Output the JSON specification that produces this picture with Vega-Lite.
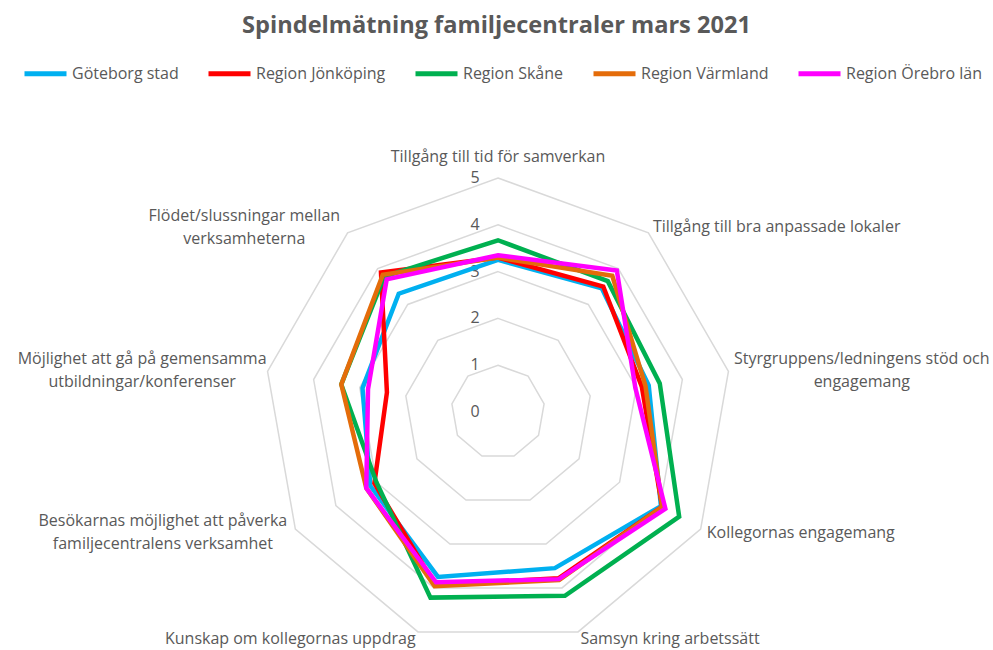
{
  "$schema": "https://vega.github.io/schema/vega-lite/v6.json",
  "autosize": {"type": "none"},
  "padding": {"left": 0, "right": 0, "top": 100, "bottom": 0},
  "width": 993,
  "height": 550,
  "background": "white",
  "title": {
    "text": "Spindelmätning familjecentraler mars 2021",
    "font": "Open Sans",
    "fontSize": 23.6,
    "fontWeight": "bold",
    "color": "#595959",
    "anchor": "middle",
    "offset": 12
  },
  "config": {
    "view": {"stroke": null},
    "legend": {
      "orient": "none",
      "legendX": 22,
      "legendY": -50,
      "direction": "horizontal",
      "columns": 5,
      "columnPadding": 19,
      "symbolType": "stroke",
      "symbolSize": 1764,
      "symbolStrokeWidth": 5,
      "labelOffset": 3,
      "labelFont": "Open Sans",
      "labelFontSize": 16,
      "labelColor": "#595959",
      "labelLimit": 300,
      "title": null
    }
  },
  "datasets": {
    "series": [
      {"s": "Göteborg stad", "i": 0, "v": 3.25},
      {"s": "Göteborg stad", "i": 1, "v": 3.45},
      {"s": "Göteborg stad", "i": 2, "v": 3.27},
      {"s": "Göteborg stad", "i": 3, "v": 4.02},
      {"s": "Göteborg stad", "i": 4, "v": 3.55},
      {"s": "Göteborg stad", "i": 5, "v": 3.75},
      {"s": "Göteborg stad", "i": 6, "v": 3.15},
      {"s": "Göteborg stad", "i": 7, "v": 2.94},
      {"s": "Göteborg stad", "i": 8, "v": 3.3},
      {"s": "Region Jönköping", "i": 0, "v": 3.3},
      {"s": "Region Jönköping", "i": 1, "v": 3.5},
      {"s": "Region Jönköping", "i": 2, "v": 3.12},
      {"s": "Region Jönköping", "i": 3, "v": 4.05},
      {"s": "Region Jönköping", "i": 4, "v": 3.78},
      {"s": "Region Jönköping", "i": 5, "v": 3.93},
      {"s": "Region Jönköping", "i": 6, "v": 3.05},
      {"s": "Region Jönköping", "i": 7, "v": 2.41},
      {"s": "Region Jönköping", "i": 8, "v": 3.89},
      {"s": "Region Skåne", "i": 0, "v": 3.67},
      {"s": "Region Skåne", "i": 1, "v": 3.65},
      {"s": "Region Skåne", "i": 2, "v": 3.51},
      {"s": "Region Skåne", "i": 3, "v": 4.47},
      {"s": "Region Skåne", "i": 4, "v": 4.18},
      {"s": "Region Skåne", "i": 5, "v": 4.22},
      {"s": "Region Skåne", "i": 6, "v": 3.0},
      {"s": "Region Skåne", "i": 7, "v": 3.4},
      {"s": "Region Skåne", "i": 8, "v": 3.78},
      {"s": "Region Värmland", "i": 0, "v": 3.3},
      {"s": "Region Värmland", "i": 1, "v": 3.8},
      {"s": "Region Värmland", "i": 2, "v": 3.2},
      {"s": "Region Värmland", "i": 3, "v": 4.05},
      {"s": "Region Värmland", "i": 4, "v": 3.82},
      {"s": "Region Värmland", "i": 5, "v": 3.96},
      {"s": "Region Värmland", "i": 6, "v": 3.25},
      {"s": "Region Värmland", "i": 7, "v": 3.4},
      {"s": "Region Värmland", "i": 8, "v": 3.83},
      {"s": "Region Örebro län", "i": 0, "v": 3.35},
      {"s": "Region Örebro län", "i": 1, "v": 3.95},
      {"s": "Region Örebro län", "i": 2, "v": 2.98},
      {"s": "Region Örebro län", "i": 3, "v": 4.13},
      {"s": "Region Örebro län", "i": 4, "v": 3.8},
      {"s": "Region Örebro län", "i": 5, "v": 3.87},
      {"s": "Region Örebro län", "i": 6, "v": 3.25},
      {"s": "Region Örebro län", "i": 7, "v": 2.82},
      {"s": "Region Örebro län", "i": 8, "v": 3.7}
    ],
    "rings": [
      {"level": 1, "i": 0}, {"level": 1, "i": 1}, {"level": 1, "i": 2}, {"level": 1, "i": 3}, {"level": 1, "i": 4}, {"level": 1, "i": 5}, {"level": 1, "i": 6}, {"level": 1, "i": 7}, {"level": 1, "i": 8},
      {"level": 2, "i": 0}, {"level": 2, "i": 1}, {"level": 2, "i": 2}, {"level": 2, "i": 3}, {"level": 2, "i": 4}, {"level": 2, "i": 5}, {"level": 2, "i": 6}, {"level": 2, "i": 7}, {"level": 2, "i": 8},
      {"level": 3, "i": 0}, {"level": 3, "i": 1}, {"level": 3, "i": 2}, {"level": 3, "i": 3}, {"level": 3, "i": 4}, {"level": 3, "i": 5}, {"level": 3, "i": 6}, {"level": 3, "i": 7}, {"level": 3, "i": 8},
      {"level": 4, "i": 0}, {"level": 4, "i": 1}, {"level": 4, "i": 2}, {"level": 4, "i": 3}, {"level": 4, "i": 4}, {"level": 4, "i": 5}, {"level": 4, "i": 6}, {"level": 4, "i": 7}, {"level": 4, "i": 8},
      {"level": 5, "i": 0}, {"level": 5, "i": 1}, {"level": 5, "i": 2}, {"level": 5, "i": 3}, {"level": 5, "i": 4}, {"level": 5, "i": 5}, {"level": 5, "i": 6}, {"level": 5, "i": 7}, {"level": 5, "i": 8}
    ],
    "ticks": [{"t": 0}, {"t": 1}, {"t": 2}, {"t": 3}, {"t": 4}, {"t": 5}],
    "labels": [
      {"i": 0, "label": "Tillgång till tid för samverkan"},
      {"i": 1, "label": "Tillgång till bra anpassade lokaler"},
      {"i": 2, "label": "Styrgruppens/ledningens stöd och\nengagemang"},
      {"i": 3, "label": "Kollegornas engagemang"},
      {"i": 4, "label": "Samsyn kring arbetssätt"},
      {"i": 5, "label": "Kunskap om kollegornas uppdrag"},
      {"i": 6, "label": "Besökarnas möjlighet att påverka\nfamiljecentralens verksamhet"},
      {"i": 7, "label": "Möjlighet att gå på gemensamma\nutbildningar/konferenser"},
      {"i": 8, "label": "Flödet/slussningar mellan\nverksamheterna"}
    ]
  },
  "layer": [
    {
      "data": {"name": "rings"},
      "transform": [
        {"calculate": "datum.i * 2 * PI / 9", "as": "a"},
        {"calculate": "datum.level * sin(datum.a)", "as": "x"},
        {"calculate": "datum.level * cos(datum.a)", "as": "y"}
      ],
      "mark": {"type": "line", "interpolate": "linear-closed", "stroke": "#d9d9d9", "strokeWidth": 1.5},
      "encoding": {
        "x": {"field": "x", "type": "quantitative", "scale": {"domain": [-10.641, 10.577], "nice": false, "zero": false}, "axis": null},
        "y": {"field": "y", "type": "quantitative", "scale": {"domain": [-5.085, 6.667], "nice": false, "zero": false}, "axis": null},
        "detail": {"field": "level", "type": "nominal"},
        "order": {"field": "i", "type": "quantitative"}
      }
    },
    {
      "data": {"name": "ticks"},
      "mark": {"type": "text", "dx": -23, "font": "Open Sans", "fontSize": 16, "fill": "#595959", "align": "center", "baseline": "middle"},
      "encoding": {
        "x": {"datum": 0, "type": "quantitative", "scale": {"domain": [-10.641, 10.577], "nice": false, "zero": false}, "axis": null},
        "y": {"field": "t", "type": "quantitative", "scale": {"domain": [-5.085, 6.667], "nice": false, "zero": false}, "axis": null},
        "text": {"field": "t", "type": "quantitative"}
      }
    },
    {
      "data": {"name": "labels"},
      "transform": [
        {"calculate": "datum.i * 2 * PI / 9", "as": "a"},
        {"calculate": "length(split(datum.label, '\\n'))", "as": "n"},
        {"filter": "datum.n > 1 || abs(sin(datum.a)) < 0.01"},
        {"calculate": "5.15 * sin(datum.a) + (abs(sin(datum.a)) < 0.01 ? 0 : (sin(datum.a) > 0 ? 1 : -1)) * length(split(datum.label, '\\n')[0]) * 7.9 / 2 / 46.8", "as": "lx"},
        {"calculate": "5.15 * cos(datum.a) + (abs(sin(datum.a)) < 0.01 ? 0.3 : 0) + (datum.n - 1) * 11.5 / 46.8", "as": "ly"}
      ],
      "mark": {"type": "text", "font": "Open Sans", "fontSize": 16, "fill": "#595959", "align": "center", "baseline": "middle", "lineBreak": "\n", "lineHeight": 23},
      "encoding": {
        "x": {"field": "lx", "type": "quantitative", "scale": {"domain": [-10.641, 10.577], "nice": false, "zero": false}, "axis": null},
        "y": {"field": "ly", "type": "quantitative", "scale": {"domain": [-5.085, 6.667], "nice": false, "zero": false}, "axis": null},
        "text": {"field": "label", "type": "nominal"}
      }
    },
    {
      "data": {"name": "labels"},
      "transform": [
        {"calculate": "datum.i * 2 * PI / 9", "as": "a"},
        {"calculate": "length(split(datum.label, '\\n'))", "as": "n"},
        {"filter": "datum.n == 1 && sin(datum.a) > 0.01"},
        {"calculate": "5.15 * sin(datum.a)", "as": "lx"},
        {"calculate": "5.15 * cos(datum.a)", "as": "ly"}
      ],
      "mark": {"type": "text", "font": "Open Sans", "fontSize": 16, "fill": "#595959", "align": "left", "baseline": "middle"},
      "encoding": {
        "x": {"field": "lx", "type": "quantitative", "scale": {"domain": [-10.641, 10.577], "nice": false, "zero": false}, "axis": null},
        "y": {"field": "ly", "type": "quantitative", "scale": {"domain": [-5.085, 6.667], "nice": false, "zero": false}, "axis": null},
        "text": {"field": "label", "type": "nominal"}
      }
    },
    {
      "data": {"name": "labels"},
      "transform": [
        {"calculate": "datum.i * 2 * PI / 9", "as": "a"},
        {"calculate": "length(split(datum.label, '\\n'))", "as": "n"},
        {"filter": "datum.n == 1 && sin(datum.a) < -0.01"},
        {"calculate": "5.15 * sin(datum.a)", "as": "lx"},
        {"calculate": "5.15 * cos(datum.a)", "as": "ly"}
      ],
      "mark": {"type": "text", "font": "Open Sans", "fontSize": 16, "fill": "#595959", "align": "right", "baseline": "middle"},
      "encoding": {
        "x": {"field": "lx", "type": "quantitative", "scale": {"domain": [-10.641, 10.577], "nice": false, "zero": false}, "axis": null},
        "y": {"field": "ly", "type": "quantitative", "scale": {"domain": [-5.085, 6.667], "nice": false, "zero": false}, "axis": null},
        "text": {"field": "label", "type": "nominal"}
      }
    },
    {
      "data": {"name": "series"},
      "transform": [
        {"calculate": "datum.i * 2 * PI / 9", "as": "a"},
        {"calculate": "datum.v * sin(datum.a)", "as": "x"},
        {"calculate": "datum.v * cos(datum.a)", "as": "y"}
      ],
      "mark": {"type": "line", "interpolate": "linear-closed", "strokeWidth": 4.5, "strokeJoin": "miter"},
      "encoding": {
        "x": {"field": "x", "type": "quantitative", "scale": {"domain": [-10.641, 10.577], "nice": false, "zero": false}, "axis": null},
        "y": {"field": "y", "type": "quantitative", "scale": {"domain": [-5.085, 6.667], "nice": false, "zero": false}, "axis": null},
        "order": {"field": "i", "type": "quantitative"},
        "color": {
          "field": "s",
          "type": "nominal",
          "scale": {
            "domain": ["Göteborg stad", "Region Jönköping", "Region Skåne", "Region Värmland", "Region Örebro län"],
            "range": ["#00B0F0", "#FF0000", "#00B050", "#E46C0A", "#FF00FF"]
          }
        }
      }
    }
  ]
}
